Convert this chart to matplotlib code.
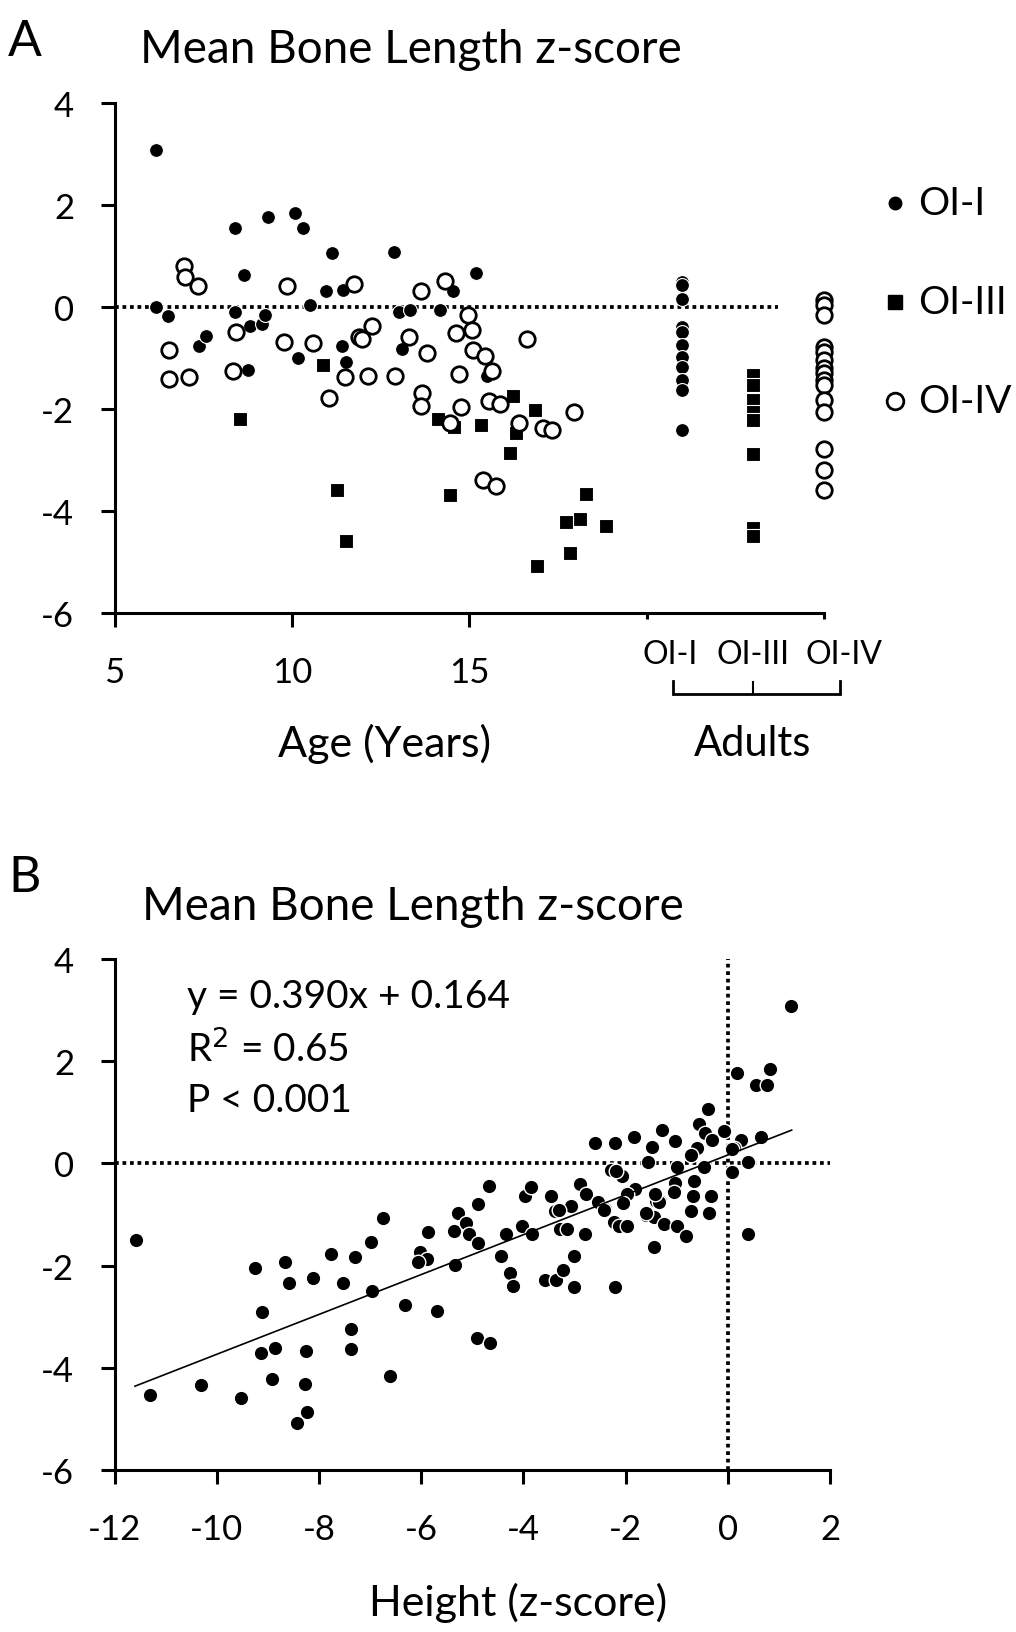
import matplotlib
matplotlib.use("Agg")
import matplotlib.pyplot as plt
import matplotlib.transforms as mtransforms
from matplotlib.lines import Line2D
import numpy as np

plt.rcParams['font.family'] = ['Lato', 'DejaVu Sans']
plt.rcParams['axes.unicode_minus'] = False

# ---------------- Panel A data ----------------
oi1_age = [6.17, 6.17, 6.51, 8.41, 8.66, 9.32, 10.08, 10.30, 11.13, 10.95, 10.52, 8.41, 7.38, 7.57,
           8.81, 9.17, 9.25, 8.75, 10.17, 11.44, 11.42, 11.52, 12.88, 13.02, 13.32, 13.10, 14.17,
           14.55, 15.18, 15.49]
oi1_z = [3.08, 0.00, -0.17, 1.55, 0.63, 1.77, 1.85, 1.55, 1.06, 0.31, 0.03, -0.09, -0.76, -0.57,
         -0.37, -0.34, -0.15, -1.24, -1.00, 0.33, -0.76, -1.07, 1.08, -0.10, -0.06, -0.83, -0.06,
         0.31, 0.66, -1.35]

oi3_age = [8.55, 10.89, 11.28, 11.53, 14.13, 14.57, 15.32, 14.47, 16.24, 16.16, 16.31, 16.86,
           18.28, 18.13, 17.74, 18.85, 17.83, 16.90]
oi3_z = [-2.19, -1.13, -3.59, -4.58, -2.19, -2.36, -2.31, -3.69, -1.75, -2.87, -2.47, -2.01,
         -3.66, -4.15, -4.21, -4.30, -4.83, -5.07]

oi4_age = [6.95, 7.00, 7.35, 6.55, 6.55, 7.10, 8.42, 8.33, 9.87, 9.77, 10.59, 11.04, 11.74, 11.88,
           11.98, 12.25, 11.50, 12.14, 12.92, 13.31, 13.64, 13.80, 13.66, 13.64, 14.33, 14.96,
           15.08, 14.64, 15.11, 15.44, 15.64, 14.71, 15.56, 15.86, 14.77, 14.47, 15.38, 15.75,
           16.64, 16.41, 17.08, 17.32, 17.95]
oi4_z = [0.80, 0.59, 0.41, -0.84, -1.42, -1.38, -0.49, -1.26, 0.42, -0.69, -0.71, -1.79, 0.45,
         -0.59, -0.63, -0.38, -1.37, -1.35, -1.35, -0.59, 0.31, -0.91, -1.69, -1.94, 0.51, -0.16,
         -0.46, -0.50, -0.85, -0.97, -1.25, -1.32, -1.85, -1.91, -1.97, -2.28, -3.39, -3.50,
         -0.63, -2.27, -2.38, -2.42, -2.05]

# adults (plotted at categorical positions on the age axis)
adult_pos = {'OI-I': 21.0, 'OI-III': 23.0, 'OI-IV': 25.0}
adult_oi1_z = [0.49, 0.44, 0.16, -0.40, -0.49, -0.75, -0.98, -1.17, -1.43, -1.63, -2.42]
adult_oi3_z = [-1.34, -1.53, -1.82, -2.05, -2.21, -2.88, -4.33, -4.49]
adult_oi4_z = [0.13, 0.03, -0.16, -0.78, -0.88, -1.04, -1.20, -1.30, -1.43, -1.53, -1.82,
               -2.05, -2.78, -3.19, -3.59]

age_ticks = [5, 10, 15]
z_ticks = [-6, -4, -2, 0, 2, 4]
legend_labels = ['OI-I', 'OI-III', 'OI-IV']

# ---------------- Panel B data ----------------
height_z = [-11.58, -11.30, -10.31, -9.53, -9.25, -9.12, -9.14, -8.86, -8.91, -8.67, -8.58, -8.26,
            -8.28, -8.24, -8.43, -8.11, -7.77, -7.53, -7.30, -7.38, -7.38, -6.98, -6.96, -6.74,
            -6.61, -6.31, -6.02, -5.89, -6.06, -5.86, -5.68, -5.33, -5.35, -5.27, -5.13, -5.07,
            -4.88, -4.88, -4.67, -4.91, -4.65,
            -4.43, -4.26, -4.20, -4.33, -4.03, -3.84, -3.97, -3.85, -3.46, -3.38, -3.28, -3.15,
            -3.06, -3.57, -3.36, -3.23, -3.00, -3.00, -2.80, -2.89, -2.78, -2.53, -2.40, -2.23,
            -2.13, -1.98, -2.20, -2.28, -2.07, -1.82, -1.98, -2.06, -1.61, -1.41, -1.32, -1.45,
            -1.25, -0.99, -0.82, -1.45, -2.59, -2.21, -1.84, -1.28, -1.49, -1.04, -1.56, -0.99,
            -1.03, -1.05, -0.39, -0.56, -0.45, -0.07, -0.30, -0.60, -0.71, -0.46, -0.67, -0.69,
            -0.71, -0.32, -0.37, 0.26, 0.12, 0.65, 0.39, 0.09, 0.39, 0.18, 0.83, 0.55, 0.77, 1.24,
            -2.19, -1.35, -1.42, -1.61, -2.43, -3.31, 0.08]
bone_z = [-1.49, -4.53, -4.34, -4.60, -2.05, -2.90, -3.72, -3.61, -4.22, -1.92, -2.35, -3.67,
          -4.32, -4.86, -5.08, -2.24, -1.77, -2.35, -1.84, -3.24, -3.63, -1.53, -2.49, -1.06,
          -4.17, -2.78, -1.74, -1.88, -1.92, -1.34, -2.88, -1.98, -1.33, -0.97, -1.16, -1.39,
          -1.55, -0.80, -0.45, -3.42, -3.52,
          -1.81, -2.15, -2.40, -1.39, -1.23, -1.39, -0.63, -0.47, -0.63, -0.94, -1.28, -1.28,
          -0.83, -2.29, -2.29, -2.08, -1.81, -2.42, -1.38, -0.40, -0.59, -0.76, -0.90, -1.15,
          -1.23, -1.23, -2.42, -0.12, -0.24, -0.51, -0.60, -0.78, -1.01, -0.73, -0.73, -1.04,
          -1.18, -1.22, -1.42, -1.63, 0.40, 0.40, 0.51, 0.66, 0.33, 0.44, 0.03, -0.07,
          -0.38, -0.56, 1.06, 0.78, 0.60, 0.63, 0.45, 0.31, 0.17, -0.07, -0.35, -0.63,
          -0.94, -0.63, -0.97, 0.45, 0.31, 0.52, 0.03, -0.17, -1.39, 1.76, 1.85, 1.53, 1.53, 3.08,
          -0.14, -0.75, -0.59, -0.98, -0.92, -0.92, 0.29]
fit_slope = 0.390
fit_intercept = 0.164
fit_x_range = [-11.6, 1.25]
height_ticks = [-12, -10, -8, -6, -4, -2, 0, 2]
eq_lines = ['y = 0.390x + 0.164', 'R$^2$ = 0.65', 'P < 0.001']

# ---------------- Figure ----------------
W, H = 1016, 1633
fig = plt.figure(figsize=(W / 100, H / 100), dpi=100)


def fx(px):
    return px / W


def fy(py):
    return 1 - py / H


TICK_FS = 25
SPINE_LW = 2.2
DOT_LW = 2.7


def style_axes(ax):
    for s in ['top', 'right']:
        ax.spines[s].set_visible(False)
    for s in ['left', 'bottom']:
        ax.spines[s].set_linewidth(SPINE_LW)
    ax.tick_params(axis='both', which='major', direction='out', length=10, width=SPINE_LW,
                   labelsize=TICK_FS, color='black')
    ax.tick_params(axis='y', pad=19)
    ax.tick_params(axis='x', pad=21)


# ---- Panel A ----
axA = fig.add_axes([fx(114.5), fy(614), fx(824) - fx(114.5), fy(104) - fy(614)])
style_axes(axA)
axA.set_xlim(5, 25)
axA.set_ylim(-6, 4)
axA.set_yticks(z_ticks)
axA.set_yticklabels([str(t) for t in z_ticks])
axA.set_xticks(age_ticks)
axA.set_xticklabels([str(t) for t in age_ticks])
axA.set_xticks([20, 25], minor=True)
axA.tick_params(axis='x', which='minor', length=4, width=SPINE_LW)

axA.plot([5, 23.7], [0, 0], color='black', lw=DOT_LW, linestyle=(0, (1, 1)),
         dash_capstyle='butt', zorder=1)

ms_fill = 100
ms_sq = 96
ms_open = 124
axA.scatter(oi1_age, oi1_z, s=ms_fill, marker='o', c='black', edgecolors='white', linewidths=0.8,
            zorder=3)
axA.scatter([adult_pos['OI-I']] * len(adult_oi1_z), adult_oi1_z, s=ms_fill, marker='o', c='black',
            edgecolors='white', linewidths=0.8, zorder=3)
axA.scatter(oi3_age, oi3_z, s=ms_sq, marker='s', c='black', edgecolors='white', linewidths=0.8,
            zorder=4)
axA.scatter([adult_pos['OI-III']] * len(adult_oi3_z), adult_oi3_z, s=ms_sq, marker='s', c='black',
            edgecolors='white', linewidths=0.8, zorder=4)
axA.scatter(oi4_age, oi4_z, s=ms_open, marker='o', facecolors='white', edgecolors='black',
            linewidths=2.0, zorder=5)
axA.scatter([adult_pos['OI-IV']] * len(adult_oi4_z), adult_oi4_z, s=ms_open, marker='o',
            facecolors='white', edgecolors='black', linewidths=2.0, zorder=5, clip_on=False)

transA = mtransforms.blended_transform_factory(axA.transData, axA.transAxes)
# group labels for adults
axA.text(20.65, -0.08, 'OI-I', transform=transA, ha='center', va='center', fontsize=23)
axA.text(23.0, -0.08, 'OI-III', transform=transA, ha='center', va='center', fontsize=23)
axA.text(25.55, -0.08, 'OI-IV', transform=transA, ha='center', va='center', fontsize=23)
# bracket
axA.plot([20.75, 20.75, 25.45, 25.45], [-0.133, -0.158, -0.158, -0.133], transform=transA,
         color='black', lw=2.0, clip_on=False, solid_joinstyle='miter')
axA.plot([23.0, 23.0], [-0.158, -0.135], transform=transA, color='black', lw=1.5, clip_on=False)
axA.text(23.0, -0.255, 'Adults', transform=transA, ha='center', va='center', fontsize=30)
axA.text(12.6, -0.255, 'Age (Years)', transform=transA, ha='center', va='center', fontsize=31)

# legend (outside, right)
leg_y = [204, 303, 402]
leg_styles = [dict(marker='o', markersize=9, markerfacecolor='black', markeredgecolor='black'),
              dict(marker='s', markersize=10, markerfacecolor='black', markeredgecolor='black'),
              dict(marker='o', markersize=12, markerfacecolor='white', markeredgecolor='black',
                   markeredgewidth=2.0)]
for lab, yy, st in zip(legend_labels, leg_y, leg_styles):
    fig.add_artist(Line2D([fx(895)], [fy(yy)], linestyle='none', transform=fig.transFigure, **st))
    fig.text(fx(918), fy(yy), lab, ha='left', va='center', fontsize=28)

fig.text(fx(8), fy(42), 'A', ha='left', va='center', fontsize=36)
fig.text(fx(411), fy(50), 'Mean Bone Length z-score', ha='center', va='center', fontsize=33)

# ---- Panel B ----
axB = fig.add_axes([fx(114.5), fy(1471), fx(830) - fx(114.5), fy(960) - fy(1471)])
style_axes(axB)
axB.set_xlim(-12, 2)
axB.set_ylim(-6, 4)
axB.set_xticks(height_ticks)
axB.set_xticklabels([str(t) for t in height_ticks])
axB.set_yticks(z_ticks)
axB.set_yticklabels([str(t) for t in z_ticks])

axB.plot([-12, 2], [0, 0], color='black', lw=DOT_LW, linestyle=(0, (1, 1)), dash_capstyle='butt',
         zorder=1, clip_on=False)
axB.plot([0, 0], [-6, 4], color='black', lw=DOT_LW, linestyle=(0, (1, 1)), dash_capstyle='butt',
         zorder=1, clip_on=False)
axB.scatter(height_z, bone_z, s=110, marker='o', c='black', edgecolors='white', linewidths=1.0,
            zorder=3)
fx_line = np.array(fit_x_range)
axB.plot(fx_line, fit_slope * fx_line + fit_intercept, color='black', lw=1.2, zorder=4)

for i, line in enumerate(eq_lines):
    fig.text(fx(187), fy(997 + 52 * i), line, ha='left', va='center', fontsize=28)

transB = mtransforms.blended_transform_factory(axB.transData, axB.transAxes)
axB.text(-4.1, -0.258, 'Height (z-score)', transform=transB, ha='center', va='center', fontsize=31)

fig.text(fx(8), fy(878), 'B', ha='left', va='center', fontsize=36)
fig.text(fx(413), fy(907), 'Mean Bone Length z-score', ha='center', va='center', fontsize=33)

fig.savefig('out.png', dpi=100, facecolor='white')
